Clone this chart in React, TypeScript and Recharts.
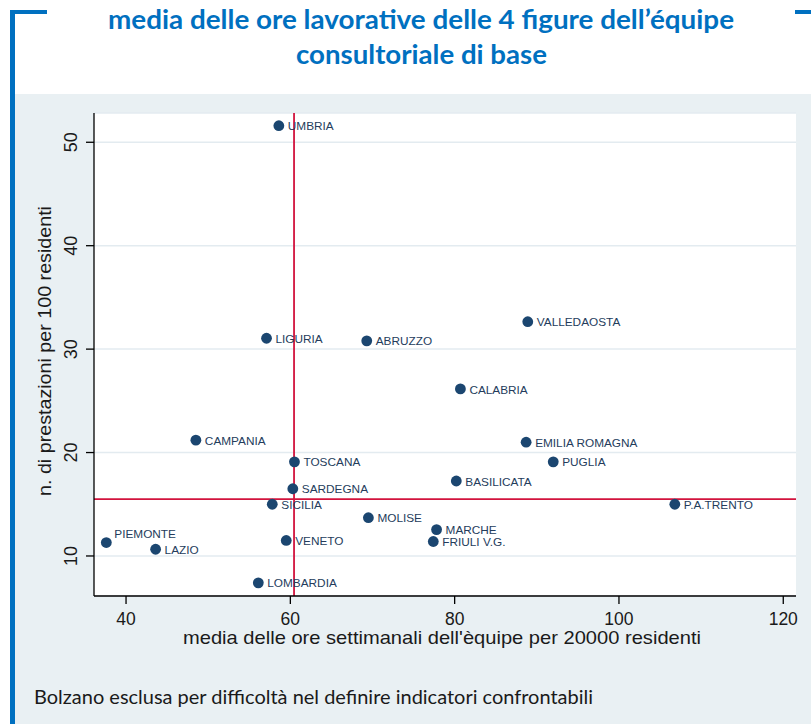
import React from "react";
import { ScatterChart, Scatter, XAxis, YAxis, CartesianGrid, ReferenceLine } from "recharts";

const regions = [
  "UMBRIA", "LIGURIA", "ABRUZZO", "VALLEDAOSTA", "CALABRIA", "CAMPANIA", "EMILIA ROMAGNA",
  "TOSCANA", "PUGLIA", "SARDEGNA", "BASILICATA", "SICILIA", "P.A.TRENTO", "MOLISE",
  "MARCHE", "PIEMONTE", "FRIULI V.G.", "VENETO", "LAZIO", "LOMBARDIA",
];
// media delle ore settimanali dell'equipe per 20000 residenti
const hours = [58.6, 57.1, 69.3, 88.9, 80.7, 48.5, 88.7, 60.5, 92.0, 60.3, 80.2, 57.8, 106.8, 69.5, 77.8, 37.6, 77.4, 59.5, 43.6, 56.1];
// n. di prestazioni per 100 residenti
const services = [51.6, 31.05, 30.8, 32.65, 26.15, 21.2, 21.0, 19.1, 19.1, 16.5, 17.25, 15.0, 15.0, 13.7, 12.55, 11.3, 11.4, 11.5, 10.65, 7.4];

const xTicks = [40, 60, 80, 100, 120];
const yTicks = [10, 20, 30, 40, 50];
const meanHours = 60.45;
const meanServices = 15.5;

const rows = regions.map((name, i) => ({ name, x: hours[i], y: services[i] }));

const BLUE = "#0070c0";
const NAVY = "#1b4670";
const RED = "#d2133d";
const AXIS_FONT = "'Liberation Sans', Arial, sans-serif";

// dot + region name; Piemonte's label sits above-right like in the original
const Marker = (props: any) => {
  const { cx, cy, payload } = props;
  const above = payload.name === "PIEMONTE";
  return (
    <g>
      <circle cx={cx} cy={cy} r={5.4} fill={NAVY} />
      <text
        x={cx + (above ? 8 : 9)}
        y={cy + (above ? -9 : 0.5)}
        dy="0.35em"
        fontSize={11.8}
        fontFamily={AXIS_FONT}
        fill="#243c5c"
      >
        {payload.name}
      </text>
    </g>
  );
};

const XTick = (props: any) => {
  const { x, y, payload } = props;
  return (
    <text x={x} y={y + 19} textAnchor="middle" fontSize={17.5} fontFamily={AXIS_FONT} fill="#1a1a1a">
      {payload.value}
    </text>
  );
};

const YTick = (props: any) => {
  const { x, y, payload } = props;
  const bx = x - 6.5;
  return (
    <text
      x={bx}
      y={y}
      transform={`rotate(-90, ${bx}, ${y})`}
      textAnchor="middle"
      fontSize={18}
      fontFamily={AXIS_FONT}
      fill="#1a1a1a"
    >
      {payload.value}
    </text>
  );
};

export default function App() {
  return (
    <div style={{ position: "absolute", left: 0, top: 0, width: 811, height: 724, background: "#fff", overflow: "hidden" }}>
      {/* slide panel + blue bracket */}
      <div style={{ position: "absolute", left: 15, top: 94, width: 796, height: 630, background: "#e9f0f3" }} />
      <div style={{ position: "absolute", left: 10, top: 10, width: 5, height: 714, background: BLUE }} />
      <div style={{ position: "absolute", left: 10, top: 10, width: 37, height: 4, background: BLUE }} />
      <div style={{ position: "absolute", left: 795, top: 10, width: 16, height: 4, background: BLUE }} />

      <div style={{ position: "absolute", left: 0, top: 0 }}>
        <ScatterChart width={811} height={724} margin={{ top: 113, right: 15, bottom: 68, left: 34 }}>
          <CartesianGrid vertical={false} stroke="#e3ebf0" strokeWidth={1.5} fill="#ffffff" fillOpacity={1} />
          <XAxis
            type="number"
            dataKey="x"
            domain={[36.1, 121.55]}
            ticks={xTicks}
            allowDataOverflow
            height={60}
            tickSize={8}
            axisLine={{ stroke: "#000", strokeWidth: 1.3 }}
            tickLine={{ stroke: "#000", strokeWidth: 1.3 }}
            tick={<XTick />}
          />
          <YAxis
            type="number"
            dataKey="y"
            domain={[6.13, 52.83]}
            ticks={yTicks}
            allowDataOverflow
            width={60}
            tickSize={8}
            axisLine={{ stroke: "#000", strokeWidth: 1.3 }}
            tickLine={{ stroke: "#000", strokeWidth: 1.3 }}
            tick={<YTick />}
          />
          <ReferenceLine x={meanHours} stroke={RED} strokeWidth={1.8} />
          <ReferenceLine y={meanServices} stroke={RED} strokeWidth={1.8} />
          <Scatter data={rows} shape={<Marker />} isAnimationActive={false} />
        </ScatterChart>
      </div>

      {/* titles and notes */}
      <svg width={811} height={724} style={{ position: "absolute", left: 0, top: 0, pointerEvents: "none" }}>
        <g fontFamily="Lato, 'Open Sans', sans-serif" fontWeight={700} fontSize={26.8} fill={BLUE} textAnchor="middle">
          <text x={421} y={28.5} textLength={626} lengthAdjust="spacingAndGlyphs">
            media delle ore lavorative delle 4 figure dell’équipe
          </text>
          <text x={421.5} y={64.3} textLength={251} lengthAdjust="spacingAndGlyphs">
            consultoriale di base
          </text>
        </g>
        <text
          x={442}
          y={643.5}
          textAnchor="middle"
          fontSize={18.5}
          fontFamily={AXIS_FONT}
          fill="#1a1a1a"
          textLength={518}
          lengthAdjust="spacingAndGlyphs"
        >
          media delle ore settimanali dell'èquipe per 20000 residenti
        </text>
        <text
          x={51}
          y={351}
          transform="rotate(-90, 51, 351)"
          textAnchor="middle"
          fontSize={19}
          fontFamily={AXIS_FONT}
          fill="#1a1a1a"
          textLength={290}
          lengthAdjust="spacingAndGlyphs"
        >
          n. di prestazioni per 100 residenti
        </text>
        <text
          x={34}
          y={704.3}
          fontSize={18.5}
          fontFamily="Lato, 'Open Sans', sans-serif"
          fill="#1a1a1a"
          textLength={559}
          lengthAdjust="spacingAndGlyphs"
        >
          Bolzano esclusa per difficoltà nel definire indicatori confrontabili
        </text>
      </svg>
    </div>
  );
}
